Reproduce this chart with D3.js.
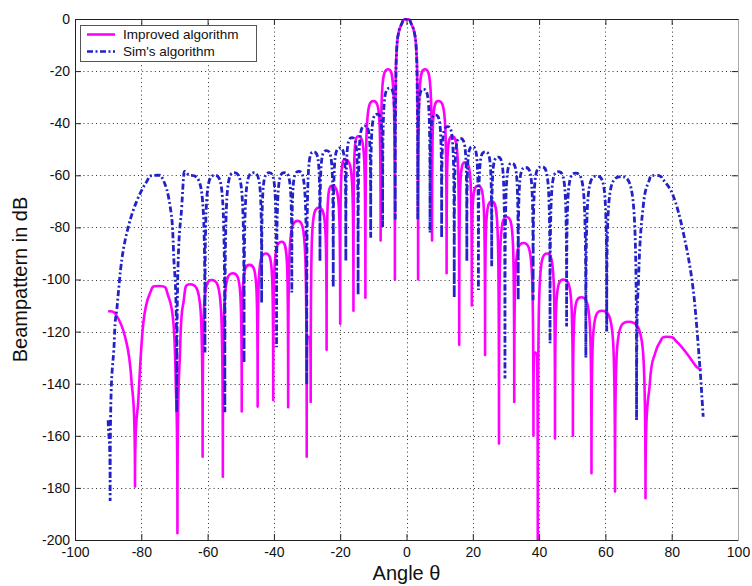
<!DOCTYPE html>
<html><head><meta charset="utf-8">
<script src="https://cdn.jsdelivr.net/npm/d3@7/dist/d3.min.js"></script>
<style>
html,body{margin:0;padding:0;background:#fff;}
svg{display:block;font-family:"Liberation Sans",Arial,sans-serif;}
</style></head>
<body>
<svg id="chart" width="752" height="586"></svg>
<script>
// ---------------- data ----------------
const seriesNames = ["Improved algorithm", "Sim's algorithm"];
const xTicks = [-100, -80, -60, -40, -20, 0, 20, 40, 60, 80, 100];
const yTicks = [0, -20, -40, -60, -80, -100, -120, -140, -160, -180, -200];

// Improved algorithm (magenta, solid)
const improvedAngle = [
  -90, -87.9, -84.9, -82.9, -81.9, -80.9, -79.4, -77.4, -74.4, -71.8, -70.3, -69.6, -69.1,
  -68.3, -67.3, -65.3, -61.5, -58.8, -55.4, -52.4, -49.7, -47.4, -44.9, -42.4, -40.2,
  -37.6, -35.7, -32.8, -30.1, -29.5, -28.9, -26.5, -24.1, -22.5, -20.0, -18.6, -16.0,
  -14.6, -12.4, -10.0, -7.8, -5.5, -3.5, -3.3, -3.0, -2.5, -1.5, 0,
  1.5, 2.5, 3.0, 3.3, 3.5, 5.5, 7.7, 9.6, 12.1, 13.8, 15.9, 17.6, 19.7, 21.6, 23.7,
  25.8, 27.9, 30.2, 32.5, 35.3, 38.3, 38.9, 39.6, 42.3, 44.8, 47.3, 50.2, 52.7, 55.8,
  58.9, 62.9, 66.9, 72.1, 73.4, 75.0, 76.5, 78.5, 81.5, 84.5, 87.5, 89.0
];
const improvedDb = [
  -112.1, -113, -122, -139.9, -179.5, -146.3, -116.8, -105.3, -102.5, -106.6, -116.8, -139.9, -197.4,
  -127, -109, -101.8, -168, -100.2, -175.7, -97.6, -150.7, -94.4, -148.8, -90, -146.3,
  -85.5, -149, -77.5, -168, -122, -147, -72.5, -127, -64, -117, -54, -112,
  -45, -107, -31.5, -85, -19.3, -100, -30, -13, -6, -2, 0,
  -2, -6, -13, -30, -100, -19.3, -85, -31.5, -97.6, -45, -125, -55, -110, -64, -129,
  -70, -163, -76, -147, -86, -160, -128, -200, -90, -161, -100, -160, -106.8, -174.4,
  -112, -181.4, -116.2, -184, -139.9, -128.3, -123.9, -122, -123.9, -128.3, -133.5, -134.7
];

// Sim's algorithm (blue, dash-dot)
const simAngle = [
  -90, -89.4, -88.1, -87.4, -85.9, -83.9, -81.4, -78.4, -75.9, -73.4, -71.3, -70.3, -69.3,
  -67.8, -65.0, -60.8, -57.8, -54.8, -52.0, -49.0, -46.2, -43.7, -41.4, -39.2, -36.9,
  -34.6, -32.5, -30.1, -28.1, -26.1, -24.1, -22.1, -20.1, -18.3, -16.4, -14.6, -12.6,
  -10.8, -8.8, -7.2, -5.0, -3.4, -3.25, -3.0, -2.5, -1.5, 0,
  1.5, 2.5, 3.0, 3.25, 3.4, 5.1, 7.1, 8.7, 10.6, 12.4, 14.4, 16.2, 18.2, 19.9, 21.7,
  23.7, 25.7, 27.7, 29.7, 31.7, 33.7, 35.9, 38.2, 40.8, 43.3, 45.8, 48.3, 51.0, 54.1,
  57.4, 60.4, 64.8, 69.4, 70.0, 71.4, 72.9, 75.3, 77.5, 80.5, 83.5, 86.5, 88.5, 89.5
];
const simDb = [
  -154, -185, -122, -111.7, -92.5, -79.7, -70, -62.5, -60, -61.8, -72, -88.7, -151,
  -72, -60, -128, -60, -151, -59, -132, -59, -109, -59, -126, -59,
  -105, -58.5, -140.5, -51, -93, -50.5, -103, -49.5, -93, -45.5, -106, -41,
  -84, -36.5, -80, -26.5, -77, -30, -13, -6, -2, 0,
  -2, -6, -13, -30, -77, -27, -82, -36.8, -84, -41.3, -107, -45.8, -93, -49, -104,
  -51, -95, -53, -138, -55.4, -108, -57, -108, -56.7, -124.5, -58.6, -118, -59.2, -130,
  -60.3, -120, -60.5, -154, -100, -72, -63, -60, -61.8, -68, -82, -104, -133.5, -152.7
];

// ---------------- layout ----------------
const svg = d3.select("#chart");
const plot = {left: 75, right: 738, top: 19, bottom: 540};
const x = d3.scaleLinear().domain([-100, 100]).range([plot.left, plot.right]);
const y = d3.scaleLinear().domain([-200, 0]).range([plot.bottom, plot.top]);

svg.append("defs").append("clipPath").attr("id", "clip")
  .append("rect").attr("x", plot.left).attr("y", plot.top - 1)
  .attr("width", plot.right - plot.left).attr("height", plot.bottom - plot.top + 2);

// grid
const grid = svg.append("g").attr("stroke", "#333").attr("stroke-width", 1)
  .attr("stroke-dasharray", "1,3.2");
grid.selectAll("line.gx").data(xTicks.slice(1, -1)).join("line")
  .attr("x1", d => Math.round(x(d)) + 0.5).attr("x2", d => Math.round(x(d)) + 0.5)
  .attr("y1", plot.top).attr("y2", plot.bottom);
grid.selectAll("line.gy").data(yTicks.slice(1, -1)).join("line")
  .attr("y1", d => Math.round(y(d)) + 0.5).attr("y2", d => Math.round(y(d)) + 0.5)
  .attr("x1", plot.left).attr("x2", plot.right);

// ---------- custom curve: rounded lobe tops, sharp spiky nulls ----------
function lobeCurve(context) {
  let pts = [];
  const H = 0.9, V = 0.93;
  return {
    areaStart() {}, areaEnd() {},
    lineStart() { pts = []; },
    point(px, py) { pts.push([+px, +py]); },
    lineEnd() {
      const n = pts.length;
      if (!n) return;
      const type = pts.map((p, i) => {
        if (i === 0 || i === n - 1) return "end";
        if (p[1] < pts[i - 1][1] && p[1] < pts[i + 1][1]) return "max";
        if (p[1] > pts[i - 1][1] && p[1] > pts[i + 1][1]) return "min";
        return "pass";
      });
      const tan = pts.map((p, i) => {
        const a = pts[Math.max(0, i - 1)], b = pts[Math.min(n - 1, i + 1)];
        return [b[0] - a[0], b[1] - a[1]];
      });
      context.moveTo(pts[0][0], pts[0][1]);
      for (let i = 0; i < n - 1; i++) {
        const p0 = pts[i], p1 = pts[i + 1];
        const dx = p1[0] - p0[0], dy = p1[1] - p0[1];
        let c1, c2;
        if (type[i] === "max") c1 = [p0[0] + H * dx, p0[1]];
        else if (type[i] === "min") c1 = [p0[0], p0[1] + V * dy];
        else { const t = tan[i], k = dx / (3 * t[0]); c1 = [p0[0] + t[0] * k, p0[1] + t[1] * k]; }
        if (type[i + 1] === "max") c2 = [p1[0] - H * dx, p1[1]];
        else if (type[i + 1] === "min") c2 = [p1[0], p1[1] - V * dy];
        else { const t = tan[i + 1], k = dx / (3 * t[0]); c2 = [p1[0] - t[0] * k, p1[1] - t[1] * k]; }
        context.bezierCurveTo(c1[0], c1[1], c2[0], c2[1], p1[0], p1[1]);
      }
    }
  };
}

const line = d3.line().x(d => x(d[0])).y(d => y(d[1])).curve(lobeCurve);
const improved = improvedAngle.map((a, i) => [a, improvedDb[i]]);
const sim = simAngle.map((a, i) => [a, simDb[i]]);

const curves = svg.append("g").attr("clip-path", "url(#clip)");
curves.append("path").datum(improved).attr("d", line)
  .attr("fill", "none").attr("stroke", "#ff00ff").attr("stroke-width", 2.6)
  .attr("stroke-linejoin", "round");
curves.append("path").datum(sim).attr("d", line)
  .attr("fill", "none").attr("stroke", "#2222c8").attr("stroke-width", 2.8)
  .attr("stroke-dasharray", "6,2.5,2,2.5");

// axes
const fontSize = 14;
const gx = svg.append("g").attr("transform", `translate(0,${plot.bottom})`)
  .call(d3.axisBottom(x).tickValues(xTicks).tickSize(-6).tickSizeOuter(0).tickPadding(7));
const gy = svg.append("g").attr("transform", `translate(${plot.left},0)`)
  .call(d3.axisLeft(y).tickValues(yTicks).tickSize(-6).tickSizeOuter(0).tickPadding(5));
const gt = svg.append("g").attr("transform", `translate(0,${plot.top})`)
  .call(d3.axisTop(x).tickValues(xTicks).tickSize(-6).tickSizeOuter(0).tickFormat(""));
const gr = svg.append("g").attr("transform", `translate(${plot.right},0)`)
  .call(d3.axisRight(y).tickValues(yTicks).tickSize(-6).tickSizeOuter(0).tickFormat(""));
[gx, gy, gt, gr].forEach(g => {
  g.selectAll("text").attr("font-size", fontSize).attr("fill", "#111")
    .attr("font-family", "'Liberation Sans', Arial, sans-serif");
  g.selectAll("line").attr("stroke", "#222");
  g.select(".domain").attr("stroke", "#222");
});
gr.select(".domain").attr("stroke", "#aaa");
gx.selectAll("text").text(d => d3.format("d")(d).replace("−", "-"));
gy.selectAll("text").text(d => d3.format("d")(d).replace("−", "-"));

// axis titles
svg.append("text").attr("x", (plot.left + plot.right) / 2).attr("y", 580)
  .attr("text-anchor", "middle").attr("font-size", 20).attr("fill", "#111")
  .text("Angle θ");
svg.append("text").attr("transform", `translate(27,${(plot.top + plot.bottom) / 2}) rotate(-90)`)
  .attr("text-anchor", "middle").attr("font-size", 20).attr("fill", "#111")
  .text("Beampattern in dB");

// legend
const lg = svg.append("g");
lg.append("rect").attr("x", 80.5).attr("y", 25.5).attr("width", 176).attr("height", 36)
  .attr("fill", "#fff").attr("stroke", "#555").attr("stroke-width", 1);
const legendStyles = [
  {color: "#ff00ff", dash: null},
  {color: "#2222c8", dash: "6,2.5,2,2.5"}
];
seriesNames.forEach((name, i) => {
  const yy = 34.5 + i * 17;
  lg.append("line").attr("x1", 87).attr("x2", 115).attr("y1", yy).attr("y2", yy)
    .attr("stroke", legendStyles[i].color).attr("stroke-width", 2.6)
    .attr("stroke-dasharray", legendStyles[i].dash);
  lg.append("text").attr("x", 123).attr("y", yy + 4.8).attr("font-size", 13.5)
    .attr("fill", "#111").text(name);
});
</script>
</body></html>
